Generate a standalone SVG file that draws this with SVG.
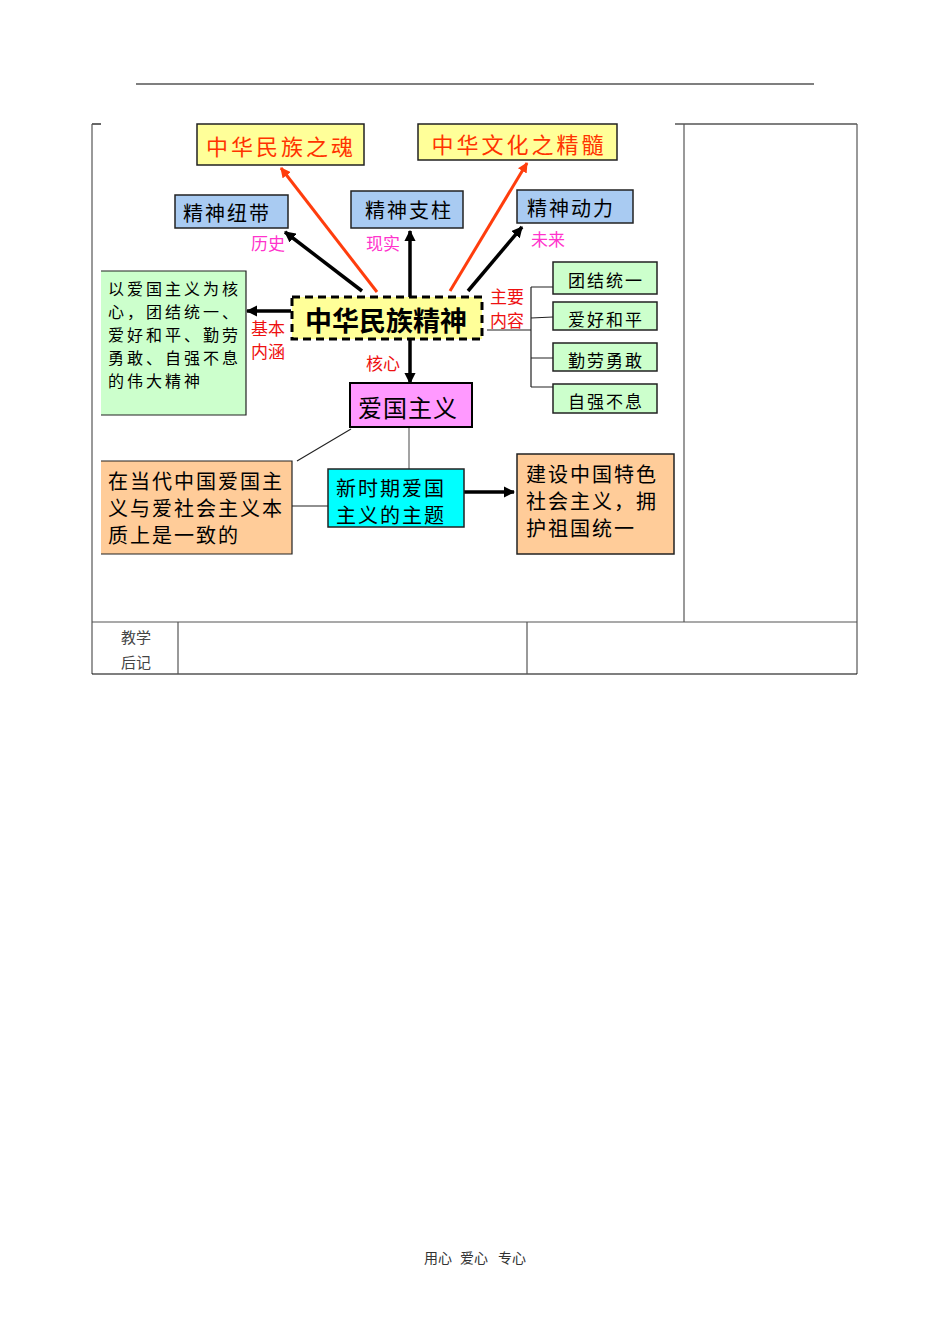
<svg xmlns="http://www.w3.org/2000/svg" width="950" height="1344" viewBox="0 0 950 1344">
<style>
text{font-family:"Noto Sans CJK SC","Noto Sans",sans-serif;dominant-baseline:central}
.tbl{stroke:#555;stroke-width:1.2;fill:none}
.tblk{stroke:#000;stroke-width:1.2;fill:none}
.box{stroke:#222;stroke-width:1.5}
.yel{fill:#FFFF99}
.blue{fill:#A9CBF2}
.grn{fill:#CCFFCC}
.org{fill:#FFCC99}
.pink{fill:#FF33CC}
.lbl{fill:#EE1111;font-size:17px}
.con{stroke:#000;stroke-width:3.5;fill:none}
.conr{stroke:#FF3D0D;stroke-width:3;fill:none}
.thin{stroke:#222;stroke-width:1.2;fill:none}
.gray{stroke:#666;stroke-width:1.2;fill:none}
</style>
<defs>
<marker id="ab" viewBox="0 0 10 10" refX="9" refY="5" markerWidth="3.2" markerHeight="3.2" orient="auto" markerUnits="strokeWidth"><path d="M0,0L10,5L0,10z" fill="#000"/></marker>
<marker id="ar" viewBox="0 0 10 10" refX="9" refY="5" markerWidth="3.4" markerHeight="3.4" orient="auto" markerUnits="strokeWidth"><path d="M0,0L10,5L0,10z" fill="#FF3D0D"/></marker>
</defs>
<rect width="950" height="1344" fill="#fff"/>
<g id="page">
<line x1="136" y1="84" x2="814" y2="84" stroke="#000" stroke-width="1.2"/>
<line x1="92" y1="124" x2="101" y2="124" class="tblk"/>
<line x1="675" y1="124" x2="857" y2="124" class="tblk"/>
<line x1="92" y1="124" x2="92" y2="674" class="tbl"/>
<line x1="857" y1="124" x2="857" y2="674" class="tbl"/>
<line x1="684" y1="124" x2="684" y2="622" class="tbl"/>
<line x1="92" y1="622" x2="857" y2="622" class="tbl"/>
<line x1="92" y1="674" x2="857" y2="674" class="tblk"/>
<line x1="178" y1="622" x2="178" y2="674" class="tbl"/>
<line x1="527" y1="622" x2="527" y2="674" class="tbl"/>
<text x="136" y="636" font-size="15" fill="#444" text-anchor="middle">教学</text>
<text x="136" y="661" font-size="15" fill="#444" text-anchor="middle">后记</text>
<text x="438" y="1257" font-size="14" fill="#333" text-anchor="middle">用心</text>
<text x="474" y="1257" font-size="14" fill="#333" text-anchor="middle">爱心</text>
<text x="512" y="1257" font-size="14" fill="#333" text-anchor="middle">专心</text>
</g>
<g id="connectors">
<line x1="377" y1="292" x2="281" y2="168" class="conr" marker-end="url(#ar)"/>
<line x1="450" y1="291" x2="527" y2="163" class="conr" marker-end="url(#ar)"/>
<line x1="362" y1="291" x2="285" y2="232" class="con" marker-end="url(#ab)"/>
<line x1="410" y1="297" x2="410" y2="231" class="con" marker-end="url(#ab)"/>
<line x1="468" y1="291" x2="522" y2="227" class="con" marker-end="url(#ab)"/>
<line x1="291" y1="311" x2="247" y2="311" class="con" marker-end="url(#ab)"/>
<line x1="410" y1="340" x2="410" y2="383" class="con" stroke-width="2.5" marker-end="url(#ab)"/>
<path d="M487,330H531M531,287V387M531,287H553M531,318L553,317M531,358H553M531,387H553" class="thin"/>
<line x1="351" y1="429" x2="297" y2="461" class="thin"/>
<line x1="409" y1="428" x2="409" y2="469" class="gray"/>
<line x1="292" y1="506" x2="328" y2="506" class="thin"/>
<line x1="464" y1="492" x2="514" y2="492" class="con" marker-end="url(#ab)"/>
</g>
<g id="n-soul">
<rect x="197" y="124" width="167" height="41" class="yel box"/>
<text x="281" y="145" font-size="22" letter-spacing="3" text-anchor="middle" fill="#FF3300">中华民族之魂</text>
</g>
<g id="n-essence">
<rect x="418" y="124" width="199" height="36" class="yel box"/>
<text x="519" y="143" font-size="22" letter-spacing="3" text-anchor="middle" fill="#FF3300">中华文化之精髓</text>
</g>
<g id="n-bond">
<rect x="175" y="195" width="113" height="33" class="blue box"/>
<text x="227" y="212" font-size="20" letter-spacing="2" text-anchor="middle" fill="#000">精神纽带</text>
</g>
<g id="n-pillar">
<rect x="351" y="191" width="112" height="37" class="blue box"/>
<text x="409" y="209" font-size="20" letter-spacing="2" text-anchor="middle" fill="#000">精神支柱</text>
</g>
<g id="n-power">
<rect x="517" y="190" width="116" height="33" class="blue box"/>
<text x="571" y="207" font-size="20" letter-spacing="2" text-anchor="middle" fill="#000">精神动力</text>
</g>
<g id="labels">
<text x="268" y="242" font-size="17" text-anchor="middle" class="pink">历史</text>
<text x="383" y="242" font-size="17" text-anchor="middle" class="pink">现实</text>
<text x="548" y="238" font-size="17" text-anchor="middle" class="pink">未来</text>
<text x="268" y="327" text-anchor="middle" class="lbl">基本</text>
<text x="268" y="350" text-anchor="middle" class="lbl">内涵</text>
<text x="507" y="295" text-anchor="middle" class="lbl">主要</text>
<text x="507" y="319" text-anchor="middle" class="lbl">内容</text>
<text x="383" y="362" text-anchor="middle" class="lbl" font-size="20">核心</text>
</g>
<g id="n-spirit">
<rect x="292" y="297" width="190" height="42" fill="#FFFF99" stroke="#000" stroke-width="3" stroke-dasharray="8,5"/>
<text x="386" y="319" font-size="27" font-weight="bold" text-anchor="middle" fill="#000">中华民族精神</text>
</g>
<g id="n-connotation">
<rect x="101" y="271" width="145" height="144" class="grn"/>
<path d="M101,271H246V415H101" class="thin" stroke-width="1.5"/>
<text font-size="16" letter-spacing="3" fill="#000">
<tspan x="108" y="288">以爱国主义为核</tspan>
<tspan x="108" y="311">心，团结统一、</tspan>
<tspan x="108" y="334">爱好和平、勤劳</tspan>
<tspan x="108" y="357">勇敢、自强不息</tspan>
<tspan x="108" y="380">的伟大精神</tspan>
</text>
</g>
<g id="n-unity">
<rect x="553" y="262" width="104" height="32" class="grn box"/>
<text x="606" y="279" font-size="17" letter-spacing="2" text-anchor="middle" fill="#000">团结统一</text>
</g>
<g id="n-peace">
<rect x="553" y="302" width="104" height="28" class="grn box"/>
<text x="606" y="318" font-size="17" letter-spacing="2" text-anchor="middle" fill="#000">爱好和平</text>
</g>
<g id="n-brave">
<rect x="553" y="343" width="104" height="28" class="grn box"/>
<text x="606" y="359" font-size="17" letter-spacing="2" text-anchor="middle" fill="#000">勤劳勇敢</text>
</g>
<g id="n-strive">
<rect x="553" y="384" width="104" height="29" class="grn box"/>
<text x="606" y="400" font-size="17" letter-spacing="2" text-anchor="middle" fill="#000">自强不息</text>
</g>
<g id="n-patriotism">
<rect x="350" y="383" width="122" height="44" fill="#FF99FF" stroke="#000" stroke-width="2"/>
<text x="408" y="406" font-size="24" letter-spacing="1" text-anchor="middle" fill="#000">爱国主义</text>
</g>
<g id="n-socialism">
<rect x="101" y="461" width="191" height="93" class="org"/>
<path d="M101,461H292V554H101" class="thin" stroke-width="1.5"/>
<text font-size="20" letter-spacing="2" fill="#000">
<tspan x="108" y="480">在当代中国爱国主</tspan>
<tspan x="108" y="507">义与爱社会主义本</tspan>
<tspan x="108" y="534">质上是一致的</tspan>
</text>
</g>
<g id="n-theme">
<rect x="328" y="469" width="136" height="58" fill="#00FFFF" class="box"/>
<text font-size="20" letter-spacing="2" fill="#000">
<tspan x="336" y="487">新时期爱国</tspan>
<tspan x="336" y="514">主义的主题</tspan>
</text>
</g>
<g id="n-build">
<rect x="517" y="454" width="157" height="100" class="org box"/>
<text font-size="20" letter-spacing="2" fill="#000">
<tspan x="526" y="473">建设中国特色</tspan>
<tspan x="526" y="500">社会主义，拥</tspan>
<tspan x="526" y="527">护祖国统一</tspan>
</text>
</g>
</svg>
